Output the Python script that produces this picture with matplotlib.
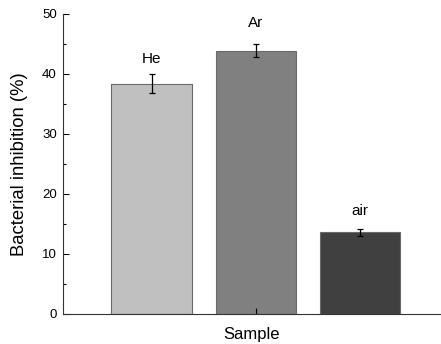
import matplotlib
matplotlib.use("Agg")
import matplotlib.pyplot as plt
from matplotlib.ticker import MultipleLocator

categories = ["He", "Ar", "air"]
values = [38.4, 43.9, 13.6]
errors = [1.6, 1.1, 0.6]
colors = ["#c0c0c0", "#808080", "#404040"]

plt.rcParams['font.family'] = ['Liberation Sans', 'DejaVu Sans']

fig = plt.figure(figsize=(4.41, 3.44), dpi=100)
ax = fig.add_axes([63/441, 1 - 314/344, 1 - 63/441, 300/344])

x = [1, 2, 3]
ax.bar(x, values, width=0.77, color=colors, edgecolor="#6a6a6a", linewidth=0.8,
       yerr=errors, error_kw=dict(ecolor="black", elinewidth=0.9, capsize=2.5, capthick=0.9))

label_offsets = [6, 10, 8]
for xi, v, e, c, off in zip(x, values, errors, categories, label_offsets):
    ax.annotate(c, (xi, v + e), xytext=(0, off), textcoords="offset points",
                ha="center", va="bottom", fontsize=11)

ax.set_xlim(0.15, 3.78)
ax.set_ylim(0, 50)
ax.yaxis.set_major_locator(MultipleLocator(10))
ax.yaxis.set_minor_locator(MultipleLocator(5))
ax.set_xticks([2])
ax.set_xticklabels([""])
ax.tick_params(axis="x", direction="in", length=4, width=0.8)
ax.tick_params(axis="y", which="major", direction="in", length=4.5, width=0.8,
               labelsize=9.5, pad=4.5)
ax.tick_params(axis="y", which="minor", direction="in", length=2.5, width=0.8)
for s in ["top", "right"]:
    ax.spines[s].set_visible(False)
for s in ["left", "bottom"]:
    ax.spines[s].set_linewidth(0.8)
    ax.spines[s].set_color("#333333")

ax.set_xlabel("Sample", fontsize=12, labelpad=6)
ax.set_ylabel("Bacterial inhibition (%)", fontsize=13.3, labelpad=10)

fig.savefig("out.png", dpi=100)
